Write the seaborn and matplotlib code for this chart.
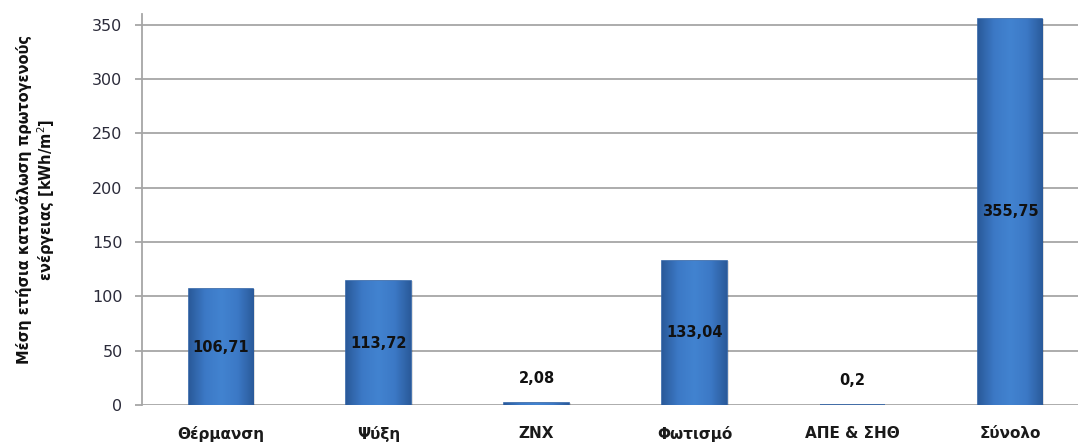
import numpy as np
import pandas as pd
import matplotlib
matplotlib.use("Agg")
import matplotlib.pyplot as plt
import seaborn as sns
from matplotlib.colors import LinearSegmentedColormap

categories = ["Θέρμανση", "Ψύξη", "ZNX", "Φωτισμό", "ΑΠΕ & ΣΗΘ", "Σύνολο"]
values = [106.71, 113.72, 2.08, 133.04, 0.2, 355.75]
y_ticks = [0, 50, 100, 150, 200, 250, 300, 350]
y_label = "Μέση ετήσια κατανάλωση πρωτογενούς\nενέργειας [kWh/m$^2$]"

df = pd.DataFrame({"category": categories, "value": values})

sns.set_theme(style="white")
plt.rcParams["font.family"] = ["DejaVu Sans"]

fig = plt.figure(figsize=(10.78, 4.42), dpi=100)
ax = fig.add_axes([142 / 1078, 37 / 442, 947 / 1078, 391 / 442])

sns.barplot(data=df, x="category", y="value", color="#3B78C6", width=0.41,
            saturation=1, ax=ax, zorder=3, edgecolor="#2F62A6", linewidth=1.2)

# horizontal shading inside each bar (darker edges, lighter centre)
shade = LinearSegmentedColormap.from_list(
    "bar_shade", ["#2A5A9A", "#3C79C6", "#4283D0", "#3C79C6", "#2A5A9A"])
grad = np.linspace(0, 1, 256).reshape(1, -1)
for patch in list(ax.patches):
    x0, y0 = patch.get_x(), patch.get_y()
    w, h = patch.get_width(), patch.get_height()
    im = ax.imshow(grad, cmap=shade, aspect="auto", zorder=3.5,
                   extent=[x0, x0 + w, y0, y0 + h], interpolation="bicubic")
    im.set_clip_path(patch)
    # soft drop shadow on the right side
    ax.add_patch(plt.Rectangle((x0 + w, y0), 0.012, h, color="#000000",
                               alpha=0.12, lw=0, zorder=2.5))

ax.set_xlim(-0.5, len(categories) - 0.5)
ax.set_ylim(0, 360)
ax.set_yticks(y_ticks)
ax.yaxis.grid(True, color="#A6A6A6", linewidth=1.3, zorder=0)
ax.set_axisbelow(True)

for side in ["top", "right", "bottom"]:
    ax.spines[side].set_visible(False)
ax.spines["left"].set_color("#A6A6A6")
ax.spines["left"].set_linewidth(1.3)

ax.tick_params(axis="y", which="major", left=True, length=5, width=1.3,
               color="#A6A6A6", labelsize=11.5, labelcolor="#2B2B3A", pad=9)
ax.tick_params(axis="x", bottom=False, labelsize=11, labelcolor="#1A1A1A",
               pad=9)
for lbl in ax.get_xticklabels():
    lbl.set_fontweight("bold")

ax.set_xlabel("")
ax.set_ylabel(y_label, fontsize=10.5, fontweight="bold", color="#111111",
              linespacing=1.15)
ax.yaxis.label.set_va("center")
ax.yaxis.set_label_coords(-0.1114, 0.526)

# value labels: centred inside tall bars, just above the small ones
for i, v in enumerate(values):
    text = f"{v:g}".replace(".", ",")
    if v > 20:
        ax.text(i, v / 2, text, ha="center", va="center", fontsize=10.5,
                fontweight="bold", color="#111111", zorder=5)
    else:
        ax.annotate(text, (i, v), xytext=(0, 12), textcoords="offset points",
                    ha="center", va="bottom", fontsize=10.5,
                    fontweight="bold", color="#111111", zorder=5)

fig.savefig("out.png", dpi=100)
